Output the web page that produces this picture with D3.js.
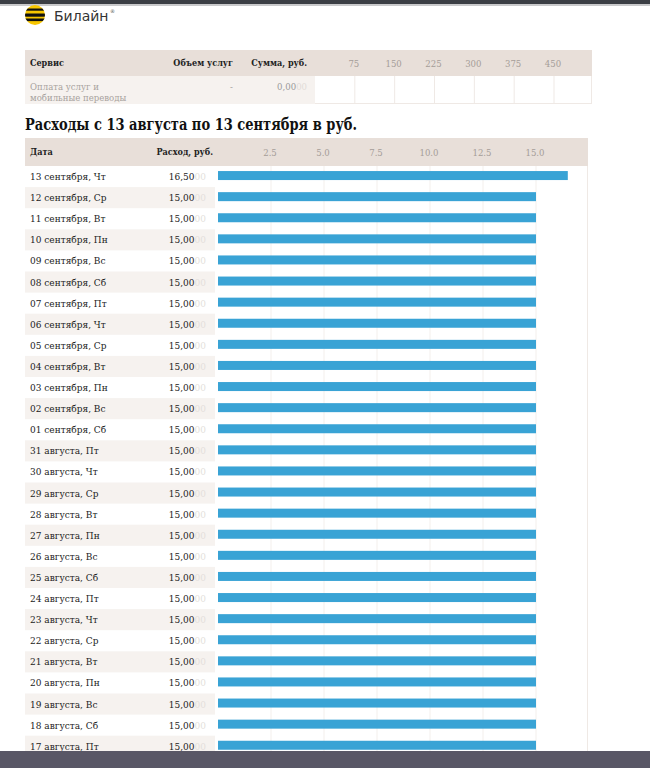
<!DOCTYPE html>
<html><head><meta charset="utf-8">
<script src="https://cdn.jsdelivr.net/npm/d3@7/dist/d3.min.js"></script>
<style>
html,body{margin:0;padding:0;background:#fff;overflow:hidden;}
svg{display:block;}
.serif{font-family:"DejaVu Serif Condensed","DejaVu Serif",serif;font-stretch:condensed;}
</style></head>
<body>
<script>
// ---- data ----
const serviceNames = ["Оплата услуг и", "мобильные переводы"];
const serviceVolume = ["-"];
const serviceSum = [0];
const topTicks = [75, 150, 225, 300, 375, 450];

const dates = ["13 сентября, Чт","12 сентября, Ср","11 сентября, Вт","10 сентября, Пн","09 сентября, Вс","08 сентября, Сб","07 сентября, Пт","06 сентября, Чт","05 сентября, Ср","04 сентября, Вт","03 сентября, Пн","02 сентября, Вс","01 сентября, Сб","31 августа, Пт","30 августа, Чт","29 августа, Ср","28 августа, Вт","27 августа, Пн","26 августа, Вс","25 августа, Сб","24 августа, Пт","23 августа, Чт","22 августа, Ср","21 августа, Вт","20 августа, Пн","19 августа, Вс","18 августа, Сб","17 августа, Пт"];
const spend = [16.5,15,15,15,15,15,15,15,15,15,15,15,15,15,15,15,15,15,15,15,15,15,15,15,15,15,15,15];
const bottomTicks = [2.5, 5.0, 7.5, 10.0, 12.5, 15.0];

const W = 650, H = 768;
const svg = d3.select("body").append("svg").attr("width", W).attr("height", H);

const headBg = "#e8dfd9", stripe = "#f6f2ef", grid = "#efe9e5", tickCol = "#a59d98";
const fmt = v => d3.format(".2f")(v).replace(".", ",");

// top dark band
svg.append("rect").attr("x",0).attr("y",0).attr("width",W).attr("height",4).attr("fill","#3b3e44");
svg.append("rect").attr("x",0).attr("y",4).attr("width",W).attr("height",2).attr("fill","#c9c9cb");

// logo
const logo = svg.append("g").attr("transform","translate(35,15)");
logo.append("clipPath").attr("id","lc").append("circle").attr("r",10);
const lg = logo.append("g").attr("clip-path","url(#lc)");
lg.append("rect").attr("x",-10).attr("y",-10).attr("width",20).attr("height",20).attr("fill","#f7c600");
[-6.5,-1.5,3.5].forEach((y,i)=>lg.append("rect").attr("x",-10).attr("y",y).attr("width",20).attr("height",[2.2,3.2,2.6][i]).attr("fill","#111"));
const brand = svg.append("text").attr("x",54).attr("y",21).attr("font-family","DejaVu Sans, sans-serif")
  .attr("font-size",14).attr("fill","#333").text("Билайн");
const bw = brand.node().getComputedTextLength();
svg.append("text").attr("x",54+bw+1.5).attr("y",13).attr("font-family","DejaVu Sans").attr("font-size",5).attr("fill","#555").text("®");

// ---- top table ----
const tx0 = 25, tx1 = 592;
const xTop = d3.scaleLinear().domain([0, 450]).range([315, 554]);
svg.append("rect").attr("x",tx0).attr("y",50).attr("width",tx1-tx0).attr("height",26).attr("fill",headBg);
svg.append("rect").attr("x",tx0).attr("y",76).attr("width",315-tx0).attr("height",28).attr("fill",stripe);
svg.append("g").selectAll("line").data(topTicks).join("line")
  .attr("x1",d=>xTop(d)).attr("x2",d=>xTop(d)).attr("y1",76).attr("y2",104).attr("stroke",grid);
svg.append("line").attr("x1",tx1-0.5).attr("x2",tx1-0.5).attr("y1",76).attr("y2",104).attr("stroke",grid);
svg.append("line").attr("x1",315).attr("x2",tx1).attr("y1",103.5).attr("y2",103.5).attr("stroke",grid);
svg.append("g").attr("class","serif").selectAll("text").data(topTicks).join("text")
  .attr("x",d=>xTop(d)-1).attr("y",67).attr("text-anchor","middle").attr("font-size",9.5).attr("fill",tickCol).text(d=>d);
const th = svg.append("g").attr("class","serif").attr("font-size",9).attr("font-weight","bold").attr("fill","#222");
th.append("text").attr("x",30).attr("y",66).text("Сервис");
th.append("text").attr("x",233).attr("y",66).attr("text-anchor","end").text("Объем услуг");
th.append("text").attr("x",307).attr("y",66).attr("text-anchor","end").text("Сумма, руб.");
const tr = svg.append("g").attr("class","serif").attr("font-size",9.5).attr("fill","#a8a29e");
serviceNames.forEach((s,i)=>tr.append("text").attr("x",30).attr("y",90+i*10.5).text(s));
tr.append("text").attr("x",233).attr("y",90).attr("text-anchor","end").text(serviceVolume[0]);
const sumT = tr.append("text").attr("x",307).attr("y",90).attr("text-anchor","end");
sumT.append("tspan").attr("fill","#999").text(fmt(serviceSum[0]));
sumT.append("tspan").attr("fill","#e2dcd8").text("00");
svg.append("g").selectAll("rect").data(serviceSum).join("rect")
  .attr("x",xTop(0)).attr("y",86).attr("width",d=>xTop(d)-xTop(0)).attr("height",9).attr("fill","#39a3d5");

// ---- title ----
svg.append("text").attr("class","serif").attr("x",25).attr("y",130).attr("font-size",17).attr("font-weight","bold")
  .attr("fill","#111").attr("textLength",332).attr("lengthAdjust","spacingAndGlyphs")
  .text("Расходы с 13 августа по 13 сентября в руб.");

// ---- bottom table ----
const bx0 = 25, bx1 = 588, hy0 = 138, hy1 = 166, rowH = 21.1;
const x = d3.scaleLinear().domain([0, 17.5]).range([218, 589]);
const y = d3.scaleBand().domain(dates).range([hy1, hy1 + rowH*dates.length]).paddingInner(0);
svg.append("rect").attr("x",bx0).attr("y",hy0).attr("width",bx1-bx0).attr("height",hy1-hy0).attr("fill",headBg);
const bh = svg.append("g").attr("class","serif").attr("font-size",9).attr("font-weight","bold").attr("fill","#222");
bh.append("text").attr("x",30).attr("y",155).text("Дата");
bh.append("text").attr("x",213).attr("y",155).attr("text-anchor","end").text("Расход, руб.");
svg.append("g").attr("class","serif").selectAll("text").data(bottomTicks).join("text")
  .attr("x",d=>x(d)-1).attr("y",156).attr("text-anchor","middle").attr("font-size",9.5).attr("fill",tickCol).text(d=>d3.format(".1f")(d));

// stripes
svg.append("g").selectAll("rect").data(dates.filter((d,i)=>i%2===1)).join("rect")
  .attr("x",bx0).attr("y",d=>y(d)).attr("width",215-bx0).attr("height",y.bandwidth()).attr("fill",stripe);
// grid
const yEnd = hy1 + rowH*dates.length;
svg.append("g").selectAll("line").data(bottomTicks).join("line")
  .attr("x1",d=>x(d)).attr("x2",d=>x(d)).attr("y1",hy1).attr("y2",yEnd).attr("stroke","#f3efec");
svg.append("line").attr("x1",bx1-0.5).attr("x2",bx1-0.5).attr("y1",hy1).attr("y2",yEnd).attr("stroke",grid);

// bars
svg.append("g").selectAll("rect").data(dates).join("rect")
  .attr("x",x(0)).attr("y",d=>y(d)+y.bandwidth()/2-5.5).attr("width",(d,i)=>x(spend[i])-x(0)).attr("height",9)
  .attr("fill","#39a3d5");

// labels
const rl = svg.append("g").attr("class","serif").attr("font-size",10).attr("fill","#222");
rl.selectAll("text.d").data(dates).join("text").attr("class","d")
  .attr("x",30).attr("y",d=>y(d)+y.bandwidth()/2+3.5).text(d=>d);
const vt = rl.selectAll("text.v").data(dates).join("text").attr("class","v")
  .attr("x",206).attr("y",d=>y(d)+y.bandwidth()/2+3.5).attr("text-anchor","end");
vt.append("tspan").text((d,i)=>fmt(spend[i]));
vt.append("tspan").attr("fill","#e4dfdb").text("00");

// bottom dark band
svg.append("rect").attr("x",0).attr("y",751).attr("width",W).attr("height",H-751).attr("fill","#595766");
</script>
</body></html>
